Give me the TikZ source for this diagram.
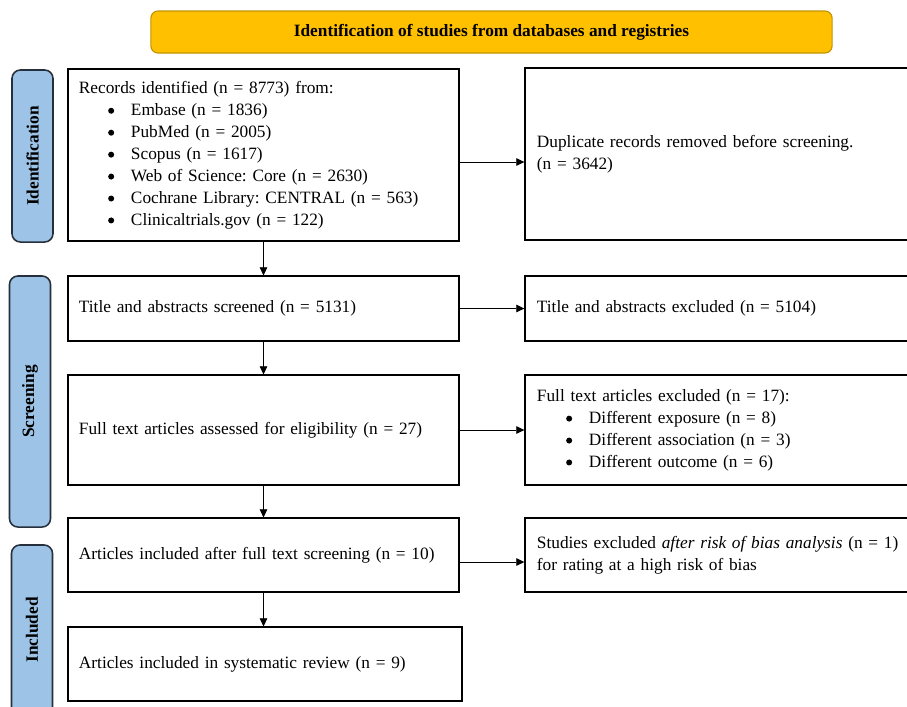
\documentclass[tikz,border=0pt]{standalone}
\usepackage{fontspec}
\setmainfont{Liberation Serif}
\usetikzlibrary{arrows.meta, positioning, calc}
\definecolor{cHead}{RGB}{255,192,0}
\definecolor{cHeadLine}{RGB}{196,148,0}
\definecolor{cStage}{RGB}{157,195,230}
\definecolor{cStageLine}{RGB}{38,48,60}
\newcommand{\fbase}{\fontsize{12.3}{15.6}\selectfont\frenchspacing}
\newcommand{\itm}[1]{\hspace*{0.73cm}\raisebox{0.2ex}{\tikz\fill (0,0) circle (0.075cm);}\hspace{0.42cm}#1}
\tikzset{
	header/.style={rectangle, rounded corners=5pt, draw=cHeadLine, fill=cHead, line width=0.8pt, minimum width=17.025cm, minimum height=1.05cm, font=\fbase\bfseries},
	stage/.style ={rectangle, rounded corners=6pt, draw=cStageLine, fill=cStage, line width=1.1pt, rotate=90, minimum height=1.025cm, inner sep=0pt, font=\fbase\bfseries},
	box/.style   ={rectangle, draw=black, line width=0.9pt, align=left, minimum width=9.775cm, text width=9.225cm, inner xsep=0.275cm},
	side/.style  ={box, minimum width=10.875cm, text width=10.275cm, inner xsep=0.3cm},
	flow/.style  ={-{Triangle[length=2mm, width=1.9mm]}, line width=0.5pt},
}
\begin{document}
\begin{tikzpicture}[x=0.025cm, y=-0.025cm, font=\fbase]
	\clip (0,0) rectangle (907,706);
	% header
	\node[header] (head) at (491.5,32) {Identification of studies from databases and registries};
	% stages
	\node[stage, minimum width=4.3cm] (sIdent) at (32.5,156) {Identification};
	\node[stage, minimum width=6.275cm] (sScreen) at (30,401.5) {Screening};
	\node[stage, minimum width=4.25cm] (sIncl) at (32,630) {Included};
	% main column
	\node[box, minimum height=4.3cm] (rec) at (263.5,155) {Records identified (n = 8773) from:\\
		\itm{Embase (n = 1836)}\\
		\itm{PubMed (n = 2005)}\\
		\itm{Scopus (n = 1617)}\\
		\itm{Web of Science: Core (n = 2630)}\\
		\itm{Cochrane Library: CENTRAL (n = 563)}\\
		\itm{Clinicaltrials.gov (n = 122)}};
	\node[box, minimum height=1.625cm] (tas) at (263.5,308.5) {Title and abstracts screened (n = 5131)};
	\node[box, minimum height=2.75cm] (fta) at (263.5,430) {Full text articles assessed for eligibility (n = 27)};
	\node[box, minimum height=1.85cm] (inc) at (263.5,555) {Articles included after full text screening (n = 10)};
	\node[box, minimum height=1.85cm, minimum width=9.85cm, text width=9.3cm] (rev) at (265,664) {Articles included in systematic review (n = 9)};
	% excluded column
	\node[side, minimum height=4.3cm] (dup) at (742.5,154) {Duplicate records removed before screening.\\(n = 3642)};
	\node[side, minimum height=1.625cm] (tex) at (742.5,308.5) {Title and abstracts excluded (n = 5104)};
	\node[side, minimum height=2.75cm] (fex) at (742.5,430) {Full text articles excluded (n = 17):\\
		\itm{Different exposure (n = 8)}\\
		\itm{Different association (n = 3)}\\
		\itm{Different outcome (n = 6)}};
	\node[side, minimum height=1.85cm] (rob) at (742.5,555) {Studies excluded \textit{after risk of bias analysis} (n = 1)\\for rating at a high risk of bias};
	% arrows
	\draw[flow] (rec.south) -- (tas.north);
	\draw[flow] (tas.south) -- (fta.north);
	\draw[flow] (fta.south) -- (inc.north);
	\draw[flow] (inc.south) -- (inc.south |- rev.north);
	\coordinate (r1) at ([yshift=-0.175cm]rec.east);
	\coordinate (r4) at ([yshift=-0.175cm]inc.east);
	\draw[flow] (r1) -- (r1 -| dup.west);
	\draw[flow] (tas.east) -- (tex.west);
	\draw[flow] (fta.east) -- (fex.west);
	\draw[flow] (r4) -- (r4 -| rob.west);
\end{tikzpicture}
\end{document}
